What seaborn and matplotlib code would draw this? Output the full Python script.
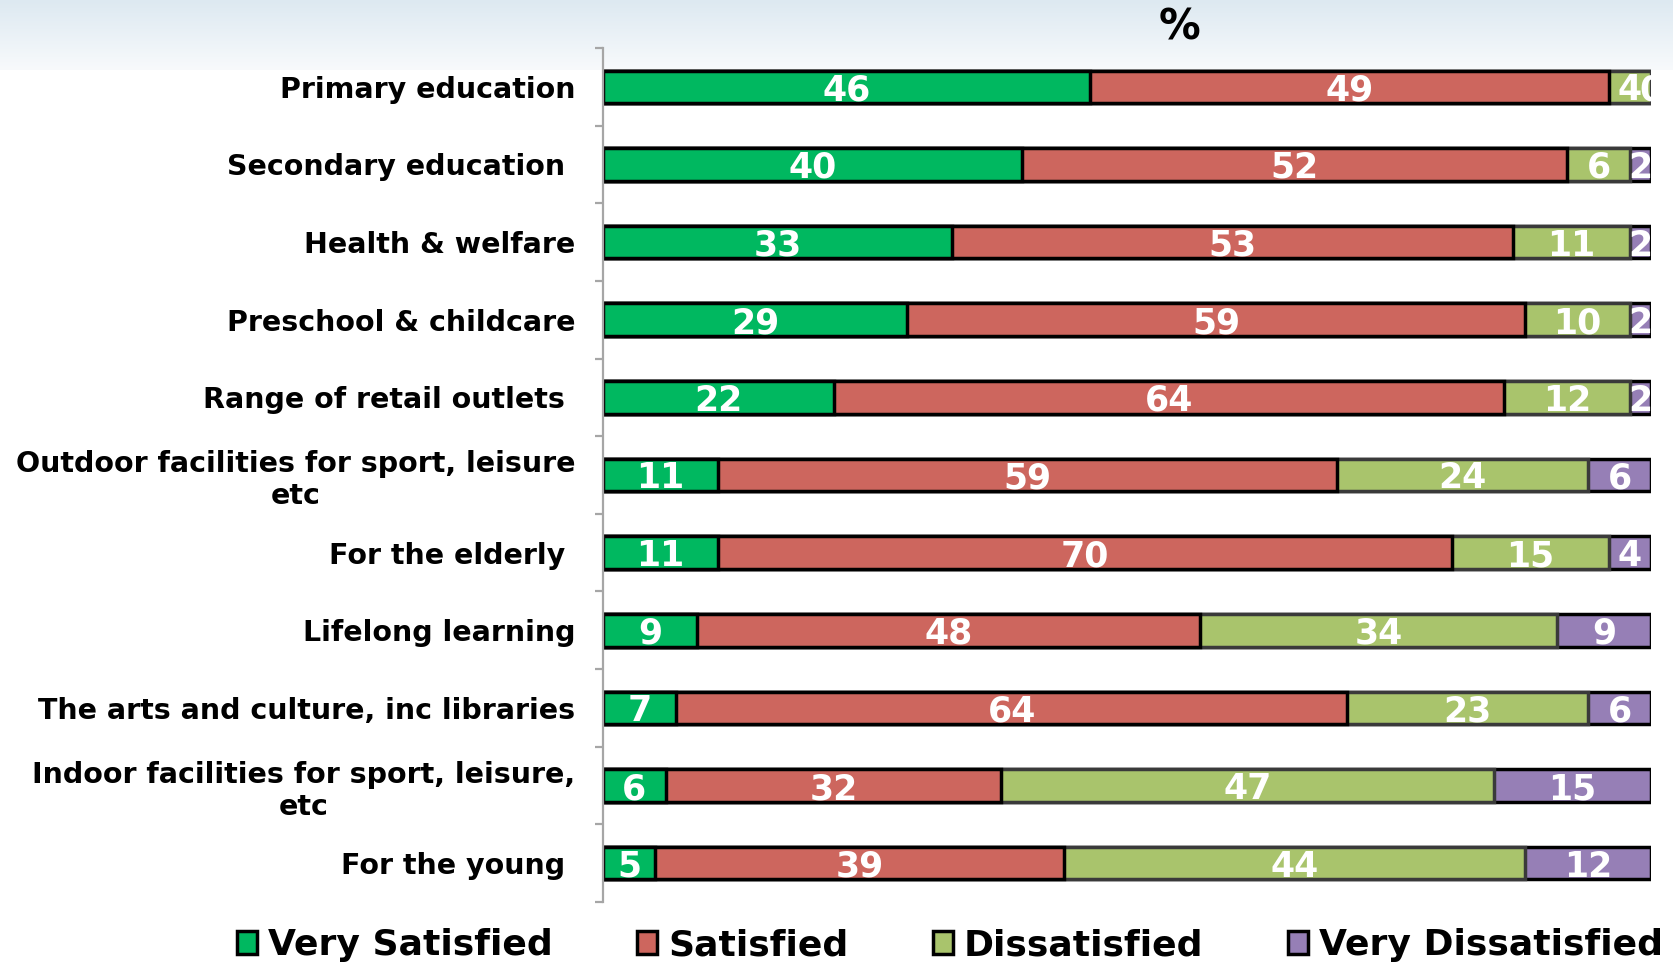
import numpy as np
import pandas as pd
import matplotlib
matplotlib.use("Agg")
import matplotlib.pyplot as plt
from matplotlib.colors import LinearSegmentedColormap
from matplotlib.patches import Patch
from matplotlib.transforms import offset_copy
import seaborn as sns

categories = [
    "Primary education",
    "Secondary education ",
    "Health & welfare",
    "Preschool & childcare",
    "Range of retail outlets ",
    "Outdoor facilities for sport, leisure\netc",
    "For the elderly ",
    "Lifelong learning",
    "The arts and culture, inc libraries",
    "Indoor facilities for sport, leisure,\netc",
    "For the young ",
]
series_names = ["Very Satisfied", "Satisfied", "Dissatisfied", "Very Dissatisfied"]
very_satisfied = [46, 40, 33, 29, 22, 11, 11, 9, 7, 6, 5]
satisfied = [49, 52, 53, 59, 64, 59, 70, 48, 64, 32, 39]
dissatisfied = [4, 6, 11, 10, 12, 24, 15, 34, 23, 47, 44]
very_dissatisfied = [0, 2, 2, 2, 2, 6, 4, 9, 6, 15, 12]

colors = ["#00B860", "#CD665E", "#A9C46C", "#967FB6"]
edges = ["#000000", "#000000", "#3A3A3A", "#000000"]

sns.set_theme(style="white")
plt.rcParams["font.family"] = ["DejaVu Sans"]
plt.rcParams["text.color"] = "black"

values = np.array([very_satisfied, satisfied, dissatisfied, very_dissatisfied], dtype=float)
shares = values / values.sum(axis=0) * 100.0   # 100% stacked
cum = np.cumsum(shares, axis=0)

W, H = 1673, 966
fig = plt.figure(figsize=(W / 100, H / 100), dpi=100)

# soft blue band across the top
bg = fig.add_axes([0, 1 - 70 / H, 1, 70 / H], zorder=-5)
bg.imshow(np.linspace(0, 1, 200)[:, None],
          cmap=LinearSegmentedColormap.from_list("band", ["#DDE9F1", "#F8FAFC"]),
          aspect="auto", extent=[0, 1, 0, 1])
bg.axis("off")

ax = fig.add_axes([603 / W, 1 - 902 / H, (1651 - 603) / W, (902 - 48) / H])
ax.patch.set_alpha(0)

# stacked bars: draw cumulative totals from the outermost segment inwards
for k in range(3, -1, -1):
    df = pd.DataFrame({"category": categories, "cum": cum[k]})
    sns.barplot(data=df, x="cum", y="category", order=categories, orient="h",
                color=colors[k], saturation=1, width=0.42, errorbar=None,
                edgecolor=edges[k], linewidth=2.5, ax=ax)

# segment value labels
label_tf = offset_copy(ax.transData, fig=fig, x=0, y=-2.5, units="points")
for i in range(len(categories)):
    for k in range(4):
        center = cum[k, i] - shares[k, i] / 2
        t = ax.text(center, i, f"{int(values[k, i])}", ha="center", va="center",
                    color="white", fontsize=25, fontweight="bold", transform=label_tf)
        t.set_clip_on(True)
        t.set_clip_box(ax.bbox)

ax.set_xlim(0, 100)
ax.set_ylim(len(categories) - 0.5, -0.5)
ax.xaxis.set_visible(False)
ax.set_ylabel("")
for s in ["top", "right", "bottom"]:
    ax.spines[s].set_visible(False)
ax.spines["left"].set_color("#A6A6A6")
ax.spines["left"].set_linewidth(1.6)

ax.set_yticks(range(len(categories)))
ax.set_yticklabels(categories)
ax.set_yticks(np.arange(-0.5, len(categories), 1), minor=True)
ax.tick_params(axis="y", which="major", left=False, length=0, pad=20, labelsize=20.5)
ax.tick_params(axis="y", which="minor", left=True, length=6, width=1.6, color="#A6A6A6")
for lbl in ax.get_yticklabels():
    lbl.set_fontweight("bold")
    lbl.set_multialignment("center")
    lbl.set_color("black")

fig.text(1179 / W, 1 - 27 / H, "%", ha="center", va="center",
         fontsize=30, fontweight="bold", color="black")

handles = [Patch(facecolor=c, edgecolor="black", linewidth=2.5, label=n)
           for c, n in zip(colors, series_names)]
leg = fig.legend(handles=handles, loc="center", bbox_to_anchor=(950 / W, 1 - 945 / H),
                 ncol=4, frameon=False, handlelength=0.55, handleheight=0.6,
                 handletextpad=0.3, columnspacing=2.35,
                 prop={"size": 26, "weight": "bold"})
for txt in leg.get_texts():
    txt.set_color("black")

fig.savefig("out.png", dpi=100)
